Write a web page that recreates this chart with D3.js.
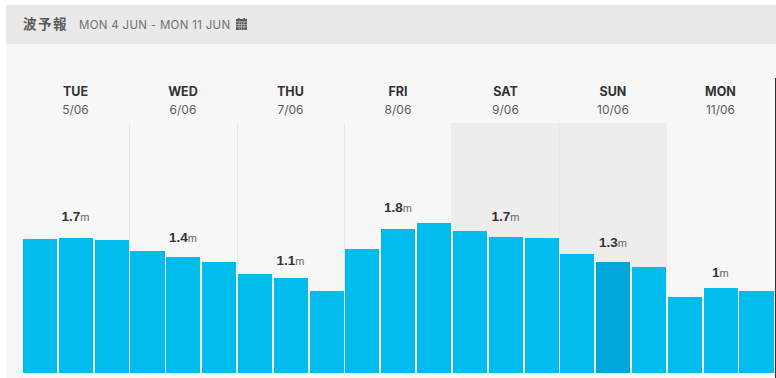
<!DOCTYPE html>
<html>

<head>
  <title>Wave forecast</title>
  <script src="https://cdn.jsdelivr.net/npm/d3@7"></script>
  <style>
    html, body {
      margin: 0;
      padding: 0;
      background: #fff;
      overflow: hidden;
    }

    svg {
      display: block;
    }

    .title {
      font-family: "Noto Sans CJK JP", sans-serif;
      font-size: 13.5px;
      font-weight: 700;
      letter-spacing: 1.5px;
      fill: #5a5a5a;
    }

    .range {
      font-family: Inter, sans-serif;
      font-size: 11.5px;
      letter-spacing: 0.3px;
      fill: #727272;
    }

    .day {
      font-family: Inter, sans-serif;
      font-size: 12.5px;
      font-weight: 700;
      fill: #333;
      text-anchor: middle;
    }

    .date {
      font-family: Inter, sans-serif;
      font-size: 12px;
      fill: #5c5c5c;
      text-anchor: middle;
    }

    .height {
      font-family: "Liberation Sans", Arial, sans-serif;
      font-size: 13.5px;
      font-weight: 700;
      fill: #333;
      text-anchor: middle;
    }

    .height tspan {
      font-size: 11px;
      font-weight: 400;
      fill: #666;
    }
  </style>
</head>

<body>
  <div id="chart"></div>
  <script>
    const days = ["TUE", "WED", "THU", "FRI", "SAT", "SUN", "MON"];
    const dates = ["5/06", "6/06", "7/06", "8/06", "9/06", "10/06", "11/06"];
    const dayLabels = ["1.7", "1.4", "1.1", "1.8", "1.7", "1.3", "1"];
    // level each day label floats at, in metres
    const labelLevels = [1.83, 1.58, 1.30, 1.94, 1.83, 1.52, 1.16];
    const weekend = ["SAT", "SUN"];
    const separators = ["WED", "THU", "FRI", "SUN"];
    // three readings per day, in metres
    const waveHeights = [
      1.61, 1.63, 1.60,
      1.47, 1.40, 1.34,
      1.19, 1.14, 0.99,
      1.49, 1.73, 1.81,
      1.71, 1.64, 1.63,
      1.43, 1.34, 1.28,
      0.92, 1.02, 0.99
    ];
    const currentIndex = 16;

    const width = 776;
    const height = 378;

    const svg = d3.select("#chart").append("svg")
      .attr("width", width)
      .attr("height", height);

    // panel and header
    svg.append("rect").attr("x", 6).attr("y", 5).attr("width", width - 6).attr("height", height - 5).attr("fill", "#f7f7f7");
    svg.append("rect").attr("x", 6).attr("y", 5).attr("width", width - 6).attr("height", 39).attr("fill", "#e9e9e9");

    svg.append("text").attr("class", "title").attr("x", 23).attr("y", 29).text("波予報");
    svg.append("text").attr("class", "range").attr("x", 79).attr("y", 29).text("MON 4 JUN - MON 11 JUN");

    // calendar icon
    const icon = svg.append("g").attr("transform", "translate(236,18)").attr("fill", "#5a5a5a");
    icon.append("rect").attr("x", 0).attr("y", 1).attr("width", 11).attr("height", 11);
    icon.append("rect").attr("x", 2).attr("y", 0).attr("width", 1.5).attr("height", 2.5);
    icon.append("rect").attr("x", 7.5).attr("y", 0).attr("width", 1.5).attr("height", 2.5);
    const iconGap = icon.append("g").attr("fill", "#e9e9e9").attr("opacity", 0.75);
    [3.5, 6, 8.5].forEach(gy => iconGap.append("rect").attr("x", 0).attr("y", gy).attr("width", 11).attr("height", 0.7));
    [2.7, 5.2, 7.7].forEach(gx => iconGap.append("rect").attr("x", gx).attr("y", 3.5).attr("width", 0.7).attr("height", 8.5));

    const x = d3.scaleBand()
      .domain(d3.range(waveHeights.length))
      .range([23, 773.5])
      .paddingInner(0.05);

    const xDay = d3.scaleBand()
      .domain(days)
      .range([21.7, 774.2]);

    const y = d3.scaleLinear()
      .domain([0, 3])
      .range([373, 124]);

    // weekend shading and day separators
    svg.append("g").selectAll("rect")
      .data(weekend)
      .enter().append("rect")
      .attr("x", d => Math.floor(xDay(d)))
      .attr("y", 123)
      .attr("width", d => Math.round(xDay(d) + xDay.bandwidth()) - Math.floor(xDay(d)))
      .attr("height", 250)
      .attr("fill", "#ededed");

    svg.append("g").selectAll("line")
      .data(separators)
      .enter().append("line")
      .attr("x1", d => Math.round(xDay(d)) + 0.5)
      .attr("x2", d => Math.round(xDay(d)) + 0.5)
      .attr("y1", 123)
      .attr("y2", 373)
      .attr("stroke", "#e8e8e8");

    const header = svg.append("g").selectAll("g")
      .data(days)
      .enter().append("g")
      .attr("transform", d => `translate(${xDay(d) + xDay.bandwidth() / 2},0)`);

    header.append("text").attr("class", "day").attr("y", 96).text(d => d);
    header.append("text").attr("class", "date").attr("y", 114).text((d, i) => dates[i]);

    svg.append("g").selectAll("rect")
      .data(waveHeights)
      .enter().append("rect")
      .attr("x", (d, i) => x(i))
      .attr("y", d => y(d))
      .attr("width", x.bandwidth())
      .attr("height", d => y(0) - y(d))
      .attr("fill", (d, i) => i === currentIndex ? "#00a6da" : "#00bced")
      .attr("shape-rendering", "crispEdges");

    const label = svg.append("g").selectAll("text")
      .data(days)
      .enter().append("text")
      .attr("class", "height")
      .attr("x", d => xDay(d) + xDay.bandwidth() / 2)
      .attr("y", (d, i) => y(labelLevels[i]))
      .text((d, i) => dayLabels[i]);

    label.append("tspan").text("m");

    // right edge line
    svg.append("line")
      .attr("x1", 775.5).attr("x2", 775.5)
      .attr("y1", 78).attr("y2", height)
      .attr("stroke", "#333");
  </script>
</body>

</html>
